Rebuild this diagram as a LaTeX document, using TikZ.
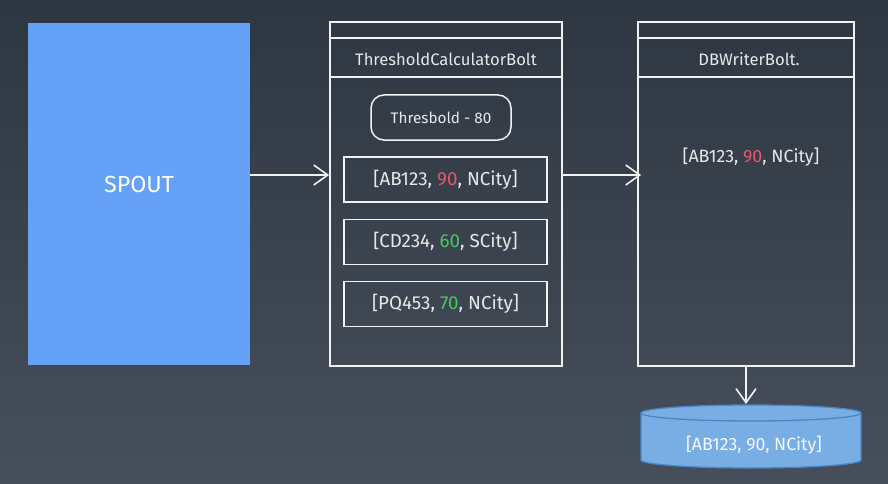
\documentclass[tikz,border=0pt]{standalone}
\usepackage{fontspec}
\setmainfont{Fira Sans}
\usetikzlibrary{arrows.meta}
\definecolor{bgtop}{HTML}{2E3641}
\definecolor{bgbot}{HTML}{464F5B}
\definecolor{spoutblue}{HTML}{65A2F7}
\definecolor{linecol}{HTML}{F2F2F2}
\definecolor{txtcol}{HTML}{E8E8E8}
\definecolor{redv}{HTML}{E8566E}
\definecolor{greenv}{HTML}{43C862}
\definecolor{cylfill}{HTML}{78AEE4}
\definecolor{cyledge}{HTML}{4A86CA}
\begin{document}
\begin{tikzpicture}[x=1pt,y=-1pt,
  boltbox/.style={draw=linecol,line width=1.8pt,minimum width=232pt,minimum height=344pt,inner sep=0pt},
  titletext/.style={text=txtcol,font=\fontsize{16.6}{19}\selectfont},
  recbox/.style={draw=linecol,line width=1.8pt,minimum width=203pt,minimum height=45pt,inner sep=0pt,text=txtcol,font=\fontsize{18.8}{22}\selectfont},
  thrbox/.style={draw=linecol,line width=1.5pt,rounded corners=13pt,minimum width=140pt,minimum height=45pt,inner sep=0pt,text=txtcol,font=\fontsize{15.3}{18}\selectfont},
  flow/.style={draw=linecol,line width=1.6pt,-{Straight Barb[length=14pt,width=20pt,line width=1.6pt]}}
]
\useasboundingbox (0,0) rectangle (888,484);
\shade[top color=bgtop,bottom color=bgbot] (0,0) rectangle (888,484);

% spout
\node[fill=spoutblue,minimum width=222pt,minimum height=342pt,inner sep=0pt] (spout) at (139,194) {};
\node[text=white,font=\fontsize{23.3}{27}\selectfont] (spouttext) at (139,184.5) {SPOUT};

% threshold calculator bolt
\node[boltbox,minimum width=232pt] (tcb) at (446,194) {};
\draw[linecol,line width=1.8pt] ([yshift=-17pt]tcb.north west) -- ([yshift=-17pt]tcb.north east);
\draw[linecol,line width=1.8pt] ([yshift=-56pt]tcb.north west) -- ([yshift=-56pt]tcb.north east);
\node[titletext] (tcbtitle) at (446,59) {ThresholdCalculatorBolt};
\node[thrbox] (thr) at (441,117.5) {Thresbold - 80};
\node[recbox] (r1) at (445.5,179.5) {[AB123, \textcolor{redv}{90}, NCity]};
\node[recbox] (r2) at (445.5,242) {[CD234, \textcolor{greenv}{60}, SCity]};
\node[recbox] (r3) at (445.5,304) {[PQ453, \textcolor{greenv}{70}, NCity]};

% db writer bolt
\node[boltbox,minimum width=216pt] (dbw) at (746,194) {};
\draw[linecol,line width=1.8pt] ([yshift=-17pt]dbw.north west) -- ([yshift=-17pt]dbw.north east);
\draw[linecol,line width=1.8pt] ([yshift=-56pt]dbw.north west) -- ([yshift=-56pt]dbw.north east);
\node[titletext] (dbwtitle) at (749,59) {DBWriterBolt.};
\node[text=txtcol,font=\fontsize{17.8}{21}\selectfont] (dbrec) at (751,157) {[AB123, \textcolor{redv}{90}, NCity]};

% database cylinder
\filldraw[fill=cylfill,draw=cyledge,line width=1.3pt]
  (641,413) -- (641,460) arc[start angle=180,end angle=0,x radius=110,y radius=8]
  -- (861,413) arc[start angle=0,end angle=-180,x radius=110,y radius=8] -- cycle;
\draw[cyledge,line width=1.3pt] (641,413) arc[start angle=180,end angle=0,x radius=110,y radius=8];
\coordinate (dbtop) at (751,404);
\node[text=white!92!cylfill,font=\fontsize{17.7}{21}\selectfont] (dbtext) at (754,445) {[AB123, 90, NCity]};

% connectors
\draw[flow] ([yshift=4.5pt]spout.east |- r1) -- ([yshift=4.5pt]tcb.west |- r1);
\draw[flow] ([yshift=4.5pt]tcb.east |- r1) -- ([xshift=4pt,yshift=4.5pt]dbw.west |- r1);
\draw[flow] (dbw.south) -- (dbw.south |- dbtop);
\end{tikzpicture}
\end{document}
